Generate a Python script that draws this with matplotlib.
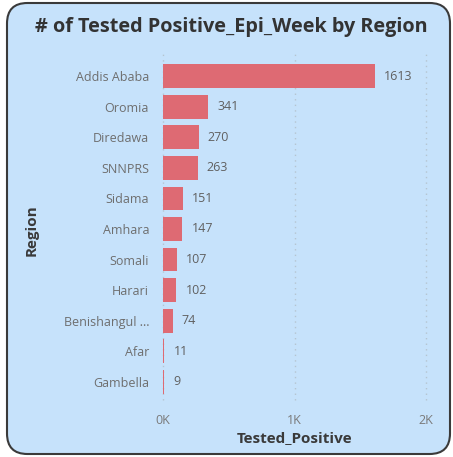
import matplotlib
matplotlib.use("Agg")
import matplotlib.pyplot as plt
from matplotlib.patches import FancyBboxPatch

regions = ["Addis Ababa", "Oromia", "Diredawa", "SNNPRS", "Sidama", "Amhara",
           "Somali", "Harari", "Benishangul ...", "Afar", "Gambella"]
positives = [1613, 341, 270, 263, 151, 147, 107, 102, 74, 11, 9]
xticks = [0, 1000, 2000]
xtick_labels = ["0K", "1K", "2K"]

plt.rcParams["font.family"] = ["Open Sans", "DejaVu Sans"]

W, H = 453, 457
fig = plt.figure(figsize=(W / 100, H / 100), dpi=100)
fig.patch.set_facecolor("white")

# rounded card behind the chart
card = FancyBboxPatch((7 / W, 3 / H), 443 / W, 451 / H,
                      boxstyle="round,pad=0,rounding_size=0.045",
                      transform=fig.transFigure, facecolor="#c6e2fb",
                      edgecolor="#3a3a3a", linewidth=1.5, zorder=-10)
fig.patches.append(card)

fig.text(0.5 + 5 / W, 1 - 27 / H, "# of Tested Positive_Epi_Week by Region",
         ha="center", va="center", fontsize=14.3, fontweight="bold", color="#333333")

ax = fig.add_axes([163 / W, 1 - 397 / H, (426 - 163) / W, (397 - 61) / H])
ax.set_zorder(5)
ax.set_facecolor("none")

y = list(range(len(regions)))
ax.barh(y, positives, height=0.78, color="#de6a73", zorder=2)
ax.set_xlim(0, 2000)
ax.set_ylim(len(regions) - 0.5, -0.5)
ax.set_yticks(y)
ax.set_yticklabels(regions, fontsize=9, color="#6e6e6e")
ax.set_xticks(xticks)
ax.set_xticklabels(xtick_labels, fontsize=9, color="#7a7a7a")
ax.tick_params(axis="y", length=0, pad=10)
ax.tick_params(axis="x", length=0, pad=12)

for i, v in enumerate(positives):
    ax.text(v + 70, i, str(v), va="center", ha="left", fontsize=9, color="#606060")

for t in xticks:
    ax.axvline(t, ymin=-0.01, ymax=1.02, color="#b5c4d0", linestyle=(0, (1, 3)),
               linewidth=1, zorder=1, clip_on=False)

for s in ax.spines.values():
    s.set_visible(False)

ax.set_xlabel("Tested_Positive", fontsize=11, fontweight="bold", color="#3a3a3a", labelpad=3)
fig.text(32 / W, 1 - 230 / H, "Region", rotation=90, ha="center", va="center",
         fontsize=11, fontweight="bold", color="#3a3a3a")

fig.savefig("out.png", dpi=100)
